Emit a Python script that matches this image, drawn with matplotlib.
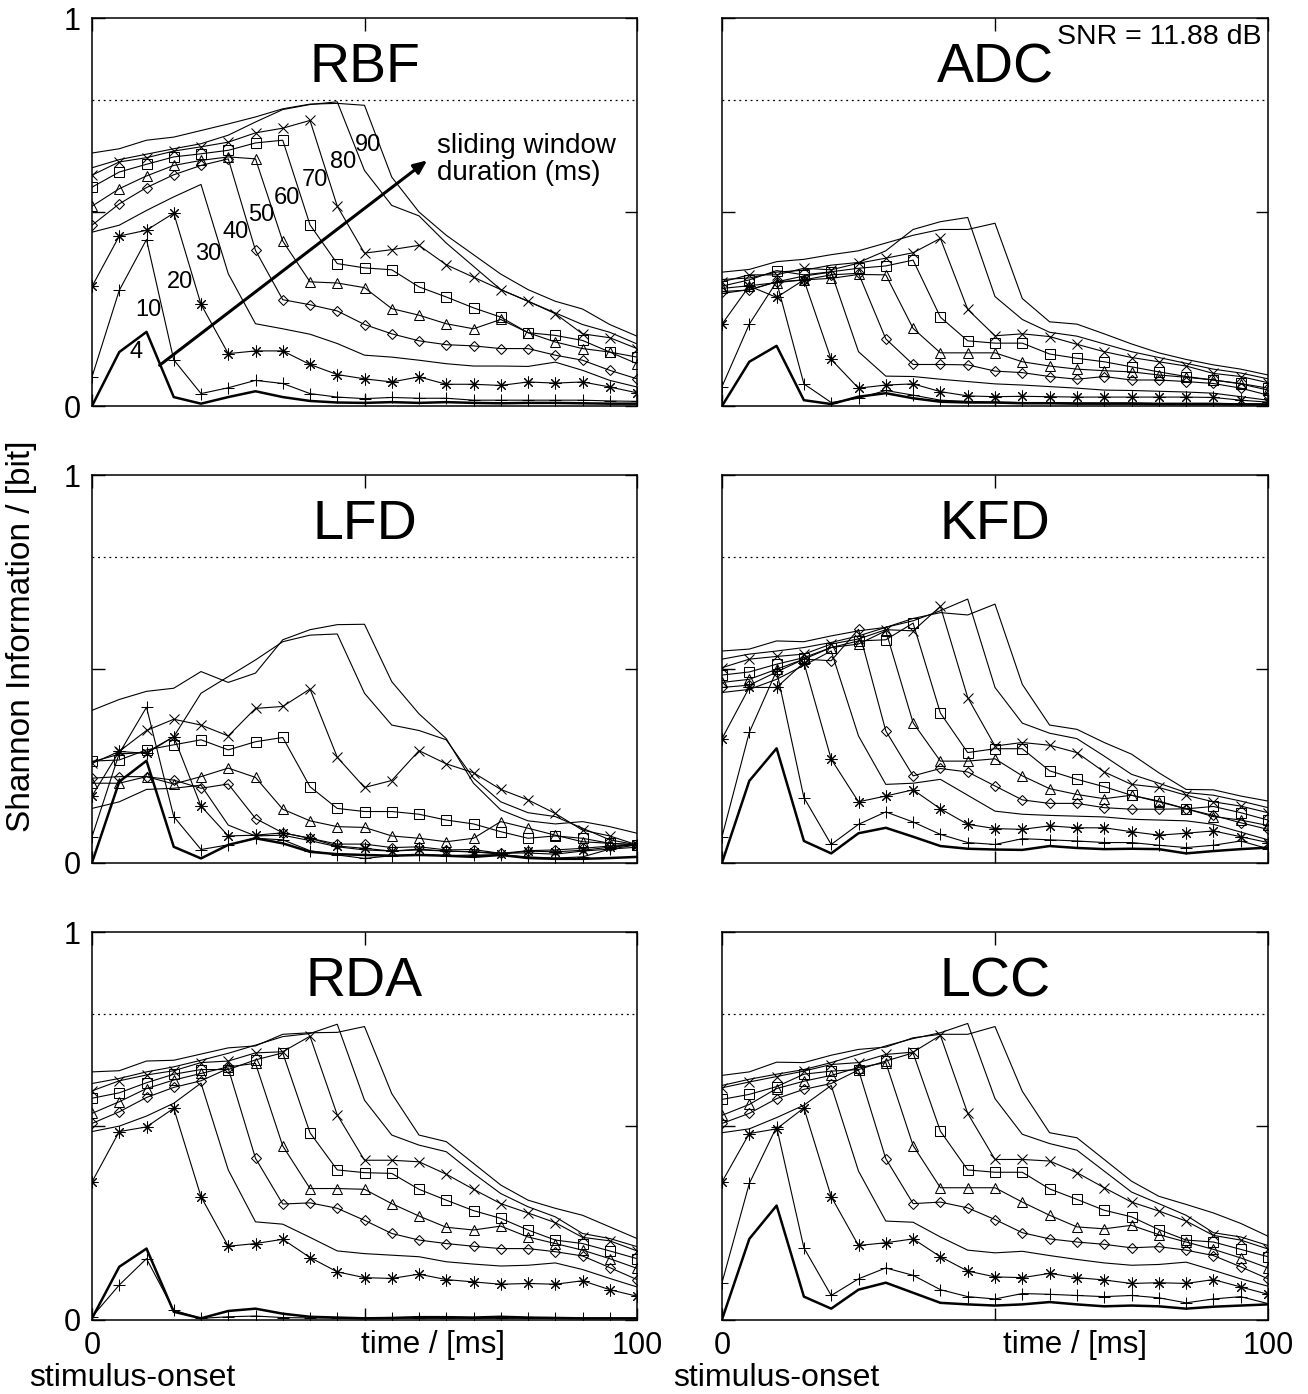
import matplotlib
matplotlib.use("Agg")
import matplotlib.pyplot as plt

plt.rcParams["font.family"] = ["Liberation Sans", "DejaVu Sans"]

# sample times of the sliding window (ms after stimulus onset)
TIME_MS = [0, 5, 10, 15, 20, 25, 30, 35, 40, 45, 50,
           55, 60, 65, 70, 75, 80, 85, 90, 95, 100]
WINDOWS_MS = [4, 10, 20, 30, 40, 50, 60, 70, 80, 90]
MAX_INFO = 0.788
SNR_DB = 11.88

# rows follow WINDOWS_MS
RBF = [
    [0, 0.139, 0.191, 0.023, 0.006, 0.023, 0.038, 0.023, 0.013, 0.009, 0.008, 0.010, 0.008, 0.010, 0.008, 0.007, 0.008, 0.008, 0.007, 0.006, 0.006],
    [0.075, 0.298, 0.429, 0.119, 0.032, 0.047, 0.066, 0.058, 0.032, 0.023, 0.019, 0.022, 0.020, 0.020, 0.015, 0.015, 0.015, 0.015, 0.015, 0.013, 0.012],
    [0.308, 0.438, 0.453, 0.497, 0.262, 0.135, 0.142, 0.142, 0.107, 0.081, 0.070, 0.062, 0.075, 0.056, 0.056, 0.053, 0.062, 0.059, 0.062, 0.049, 0.034],
    [0.448, 0.466, 0.504, 0.539, 0.571, 0.341, 0.212, 0.199, 0.185, 0.161, 0.131, 0.126, 0.118, 0.109, 0.103, 0.103, 0.102, 0.113, 0.092, 0.066, 0.049],
    [0.466, 0.521, 0.563, 0.596, 0.620, 0.637, 0.401, 0.274, 0.261, 0.245, 0.210, 0.186, 0.168, 0.158, 0.155, 0.148, 0.148, 0.131, 0.118, 0.092, 0.070],
    [0.515, 0.560, 0.593, 0.620, 0.633, 0.642, 0.637, 0.425, 0.320, 0.317, 0.305, 0.251, 0.234, 0.212, 0.199, 0.223, 0.189, 0.165, 0.148, 0.139, 0.109],
    [0.564, 0.603, 0.623, 0.642, 0.650, 0.659, 0.678, 0.685, 0.467, 0.367, 0.356, 0.351, 0.307, 0.281, 0.253, 0.229, 0.189, 0.182, 0.169, 0.139, 0.126],
    [0.595, 0.629, 0.640, 0.657, 0.668, 0.680, 0.704, 0.716, 0.736, 0.515, 0.394, 0.403, 0.414, 0.364, 0.332, 0.300, 0.270, 0.238, 0.186, 0.176, 0.148],
    [0.614, 0.635, 0.649, 0.663, 0.676, 0.698, 0.732, 0.764, 0.777, 0.784, 0.607, 0.517, 0.490, 0.420, 0.360, 0.300, 0.270, 0.240, 0.210, 0.190, 0.160],
    [0.652, 0.663, 0.685, 0.693, 0.710, 0.727, 0.745, 0.766, 0.778, 0.780, 0.775, 0.590, 0.500, 0.440, 0.390, 0.340, 0.300, 0.270, 0.250, 0.210, 0.180],
]

ADC = [
    [0, 0.114, 0.155, 0.015, 0.005, 0.024, 0.033, 0.020, 0.011, 0.009, 0.009, 0.007, 0.007, 0.006, 0.006, 0.006, 0.005, 0.005, 0.005, 0.004, 0.004],
    [0.050, 0.211, 0.320, 0.057, 0.009, 0.020, 0.040, 0.028, 0.015, 0.012, 0.010, 0.009, 0.009, 0.008, 0.008, 0.008, 0.007, 0.007, 0.007, 0.006, 0.005],
    [0.211, 0.309, 0.280, 0.325, 0.120, 0.046, 0.054, 0.057, 0.037, 0.026, 0.024, 0.025, 0.024, 0.023, 0.023, 0.023, 0.023, 0.023, 0.022, 0.015, 0.010],
    [0.290, 0.300, 0.320, 0.335, 0.345, 0.140, 0.077, 0.076, 0.069, 0.063, 0.057, 0.054, 0.050, 0.046, 0.041, 0.040, 0.038, 0.036, 0.033, 0.024, 0.015],
    [0.295, 0.299, 0.320, 0.325, 0.338, 0.342, 0.173, 0.107, 0.107, 0.106, 0.090, 0.086, 0.076, 0.069, 0.076, 0.067, 0.067, 0.063, 0.058, 0.046, 0.028],
    [0.303, 0.310, 0.318, 0.325, 0.329, 0.339, 0.338, 0.200, 0.137, 0.137, 0.137, 0.114, 0.103, 0.095, 0.091, 0.088, 0.080, 0.074, 0.067, 0.057, 0.041],
    [0.309, 0.325, 0.349, 0.338, 0.346, 0.355, 0.361, 0.376, 0.229, 0.168, 0.162, 0.162, 0.134, 0.123, 0.114, 0.101, 0.088, 0.076, 0.067, 0.058, 0.046],
    [0.320, 0.338, 0.338, 0.355, 0.351, 0.368, 0.381, 0.395, 0.432, 0.249, 0.181, 0.186, 0.179, 0.159, 0.140, 0.125, 0.114, 0.103, 0.084, 0.076, 0.060],
    [0.326, 0.330, 0.345, 0.350, 0.363, 0.370, 0.400, 0.455, 0.475, 0.486, 0.282, 0.223, 0.190, 0.180, 0.160, 0.140, 0.125, 0.110, 0.095, 0.085, 0.070],
    [0.345, 0.352, 0.372, 0.378, 0.390, 0.400, 0.420, 0.440, 0.455, 0.455, 0.471, 0.277, 0.217, 0.211, 0.186, 0.160, 0.137, 0.120, 0.106, 0.095, 0.080],
]

LFD = [
    [0, 0.209, 0.263, 0.041, 0.011, 0.046, 0.063, 0.050, 0.028, 0.022, 0.020, 0.018, 0.020, 0.018, 0.015, 0.020, 0.012, 0.010, 0.010, 0.012, 0.015],
    [0.067, 0.282, 0.401, 0.119, 0.034, 0.046, 0.063, 0.059, 0.031, 0.020, 0.011, 0.018, 0.020, 0.018, 0.020, 0.020, 0.015, 0.012, 0.015, 0.035, 0.046],
    [0.172, 0.287, 0.282, 0.325, 0.146, 0.069, 0.071, 0.077, 0.063, 0.043, 0.037, 0.030, 0.035, 0.030, 0.028, 0.022, 0.030, 0.028, 0.032, 0.040, 0.046],
    [0.140, 0.157, 0.189, 0.192, 0.200, 0.097, 0.069, 0.071, 0.057, 0.041, 0.033, 0.030, 0.033, 0.030, 0.028, 0.025, 0.025, 0.022, 0.030, 0.035, 0.040],
    [0.218, 0.222, 0.222, 0.213, 0.192, 0.203, 0.114, 0.077, 0.063, 0.048, 0.048, 0.039, 0.041, 0.033, 0.034, 0.024, 0.031, 0.033, 0.037, 0.043, 0.046],
    [0.205, 0.205, 0.222, 0.203, 0.222, 0.244, 0.220, 0.138, 0.108, 0.093, 0.091, 0.069, 0.063, 0.054, 0.063, 0.106, 0.089, 0.071, 0.054, 0.050, 0.046],
    [0.262, 0.265, 0.291, 0.304, 0.317, 0.291, 0.312, 0.323, 0.196, 0.140, 0.132, 0.132, 0.125, 0.110, 0.100, 0.080, 0.063, 0.069, 0.063, 0.050, 0.046],
    [0.256, 0.287, 0.341, 0.370, 0.355, 0.327, 0.398, 0.403, 0.448, 0.272, 0.194, 0.212, 0.289, 0.255, 0.232, 0.189, 0.162, 0.127, 0.084, 0.069, 0.046],
    [0.260, 0.280, 0.285, 0.325, 0.437, 0.480, 0.523, 0.570, 0.587, 0.590, 0.437, 0.355, 0.341, 0.317, 0.218, 0.157, 0.129, 0.119, 0.089, 0.059, 0.046],
    [0.393, 0.421, 0.442, 0.450, 0.493, 0.465, 0.489, 0.575, 0.601, 0.614, 0.615, 0.467, 0.384, 0.320, 0.205, 0.136, 0.108, 0.100, 0.106, 0.093, 0.076],
]

KFD = [
    [0, 0.211, 0.295, 0.056, 0.024, 0.076, 0.090, 0.067, 0.043, 0.036, 0.034, 0.033, 0.043, 0.038, 0.035, 0.036, 0.035, 0.024, 0.030, 0.035, 0.039],
    [0.067, 0.336, 0.495, 0.168, 0.047, 0.099, 0.131, 0.105, 0.073, 0.052, 0.047, 0.062, 0.059, 0.056, 0.052, 0.052, 0.045, 0.039, 0.045, 0.056, 0.036],
    [0.320, 0.452, 0.452, 0.516, 0.267, 0.157, 0.172, 0.188, 0.139, 0.099, 0.088, 0.086, 0.095, 0.090, 0.090, 0.080, 0.071, 0.076, 0.082, 0.067, 0.052],
    [0.439, 0.447, 0.473, 0.509, 0.546, 0.327, 0.202, 0.205, 0.215, 0.174, 0.133, 0.125, 0.122, 0.120, 0.118, 0.112, 0.110, 0.108, 0.099, 0.079, 0.059],
    [0.452, 0.458, 0.492, 0.525, 0.521, 0.602, 0.340, 0.224, 0.243, 0.234, 0.198, 0.162, 0.153, 0.153, 0.142, 0.138, 0.138, 0.139, 0.122, 0.103, 0.086],
    [0.465, 0.473, 0.499, 0.525, 0.555, 0.564, 0.598, 0.361, 0.262, 0.262, 0.268, 0.224, 0.191, 0.176, 0.165, 0.174, 0.157, 0.139, 0.119, 0.110, 0.096],
    [0.484, 0.492, 0.512, 0.529, 0.555, 0.572, 0.575, 0.618, 0.386, 0.284, 0.294, 0.294, 0.237, 0.215, 0.196, 0.174, 0.159, 0.139, 0.145, 0.129, 0.110],
    [0.503, 0.525, 0.532, 0.538, 0.564, 0.577, 0.601, 0.598, 0.661, 0.426, 0.301, 0.310, 0.303, 0.284, 0.234, 0.202, 0.194, 0.174, 0.157, 0.146, 0.129],
    [0.525, 0.538, 0.546, 0.555, 0.568, 0.585, 0.607, 0.624, 0.650, 0.680, 0.452, 0.360, 0.334, 0.320, 0.275, 0.228, 0.205, 0.181, 0.174, 0.159, 0.142],
    [0.546, 0.551, 0.572, 0.570, 0.585, 0.598, 0.607, 0.630, 0.645, 0.639, 0.667, 0.460, 0.355, 0.344, 0.310, 0.280, 0.232, 0.189, 0.188, 0.172, 0.159],
]

RDA = [
    [0.003, 0.136, 0.183, 0.020, 0.003, 0.022, 0.028, 0.015, 0.007, 0.005, 0.003, 0.004, 0.006, 0.006, 0.005, 0.007, 0.005, 0.004, 0.003, 0.003, 0.003],
    [0.007, 0.089, 0.157, 0.024, 0.003, 0.007, 0.009, 0.005, 0.004, 0.004, 0.004, 0.004, 0.003, 0.003, 0.003, 0.003, 0.003, 0.003, 0.003, 0.003, 0.003],
    [0.355, 0.485, 0.497, 0.545, 0.317, 0.189, 0.196, 0.207, 0.160, 0.123, 0.108, 0.106, 0.117, 0.103, 0.097, 0.091, 0.093, 0.091, 0.100, 0.077, 0.060],
    [0.485, 0.499, 0.525, 0.558, 0.610, 0.386, 0.252, 0.246, 0.212, 0.177, 0.170, 0.166, 0.162, 0.149, 0.143, 0.138, 0.140, 0.146, 0.129, 0.106, 0.084],
    [0.506, 0.536, 0.573, 0.599, 0.616, 0.648, 0.416, 0.298, 0.301, 0.287, 0.256, 0.222, 0.205, 0.196, 0.189, 0.183, 0.183, 0.175, 0.164, 0.134, 0.103],
    [0.532, 0.562, 0.596, 0.618, 0.635, 0.652, 0.661, 0.448, 0.338, 0.338, 0.336, 0.299, 0.267, 0.238, 0.231, 0.241, 0.213, 0.196, 0.179, 0.157, 0.132],
    [0.571, 0.585, 0.611, 0.633, 0.645, 0.645, 0.670, 0.688, 0.482, 0.386, 0.379, 0.377, 0.336, 0.308, 0.281, 0.261, 0.231, 0.205, 0.196, 0.177, 0.157],
    [0.590, 0.616, 0.631, 0.642, 0.663, 0.667, 0.688, 0.691, 0.731, 0.528, 0.411, 0.411, 0.407, 0.375, 0.336, 0.299, 0.275, 0.250, 0.212, 0.203, 0.177],
    [0.609, 0.622, 0.639, 0.652, 0.669, 0.687, 0.708, 0.730, 0.738, 0.762, 0.566, 0.476, 0.450, 0.433, 0.377, 0.325, 0.291, 0.265, 0.222, 0.209, 0.188],
    [0.639, 0.642, 0.667, 0.669, 0.685, 0.701, 0.706, 0.736, 0.740, 0.741, 0.756, 0.583, 0.476, 0.459, 0.403, 0.347, 0.308, 0.287, 0.269, 0.239, 0.209],
]

LCC = [
    [0, 0.208, 0.294, 0.059, 0.028, 0.077, 0.095, 0.069, 0.043, 0.039, 0.036, 0.039, 0.045, 0.039, 0.034, 0.036, 0.034, 0.028, 0.033, 0.036, 0.039],
    [0.095, 0.351, 0.497, 0.185, 0.062, 0.105, 0.133, 0.114, 0.077, 0.059, 0.053, 0.067, 0.065, 0.062, 0.059, 0.062, 0.056, 0.043, 0.053, 0.059, 0.041],
    [0.355, 0.480, 0.492, 0.546, 0.317, 0.191, 0.198, 0.208, 0.162, 0.125, 0.110, 0.108, 0.119, 0.108, 0.102, 0.093, 0.095, 0.093, 0.103, 0.084, 0.065],
    [0.482, 0.492, 0.521, 0.553, 0.604, 0.383, 0.254, 0.251, 0.213, 0.179, 0.172, 0.176, 0.165, 0.155, 0.146, 0.140, 0.142, 0.148, 0.127, 0.105, 0.086],
    [0.506, 0.532, 0.570, 0.594, 0.609, 0.644, 0.415, 0.299, 0.303, 0.288, 0.258, 0.224, 0.208, 0.200, 0.194, 0.185, 0.188, 0.179, 0.165, 0.136, 0.105],
    [0.527, 0.555, 0.596, 0.615, 0.630, 0.650, 0.663, 0.449, 0.340, 0.340, 0.340, 0.303, 0.269, 0.239, 0.234, 0.243, 0.219, 0.200, 0.181, 0.159, 0.133],
    [0.568, 0.581, 0.601, 0.633, 0.641, 0.645, 0.667, 0.688, 0.486, 0.386, 0.380, 0.380, 0.337, 0.310, 0.282, 0.265, 0.232, 0.205, 0.200, 0.181, 0.162],
    [0.598, 0.613, 0.627, 0.641, 0.658, 0.663, 0.684, 0.690, 0.733, 0.532, 0.413, 0.413, 0.409, 0.379, 0.340, 0.303, 0.280, 0.254, 0.217, 0.205, 0.182],
    [0.604, 0.620, 0.633, 0.645, 0.663, 0.684, 0.706, 0.725, 0.740, 0.764, 0.570, 0.478, 0.454, 0.437, 0.383, 0.329, 0.299, 0.269, 0.224, 0.213, 0.191],
    [0.630, 0.639, 0.664, 0.663, 0.682, 0.697, 0.703, 0.727, 0.736, 0.736, 0.756, 0.589, 0.482, 0.469, 0.413, 0.357, 0.318, 0.297, 0.275, 0.248, 0.215],
]

PANELS = [("RBF", RBF), ("ADC", ADC), ("LFD", LFD),
          ("KFD", KFD), ("RDA", RDA), ("LCC", LCC)]

# window-duration label positions on the RBF panel (time, info)
LABEL_POS = [(8.1, 0.139), (10.3, 0.248), (16.1, 0.32), (21.3, 0.393),
             (26.4, 0.448), (31.1, 0.491), (35.7, 0.535), (40.9, 0.582),
             (46.1, 0.629), (50.6, 0.672)]

ASTERISK = (8, 2, 0)
MARKERS = {4: None, 10: "+", 20: ASTERISK, 30: None, 40: "D",
           50: "^", 60: "s", 70: "x", 80: None, 90: None}
MSIZE = {"+": 8, ASTERISK: 8.5, "D": 5.2, "^": 6.5, "s": 6.5, "x": 7.5}

W, H = 1308, 1394
COL_X = [(92, 545), (722, 546)]
ROW_Y = [(18, 406), (475, 862.7), (932, 1319.5)]


def px_rect(x0, w, ytop, ybot):
    return [x0 / W, 1 - ybot / H, w / W, (ybot - ytop) / H]


fig = plt.figure(figsize=(W / 100, H / 100), dpi=100)

for k, (name, rows) in enumerate(PANELS):
    r, c = divmod(k, 2)
    x0, w = COL_X[c]
    ytop, ybot = ROW_Y[r]
    ax = fig.add_axes(px_rect(x0, w, ytop, ybot))

    ax.axhline(MAX_INFO, color="black", lw=0.9, ls=(0, (1.5, 3)))
    for win, vals in zip(WINDOWS_MS, rows):
        m = MARKERS[win]
        kw = dict(color="black", lw=1.8 if win == 4 else 0.8)
        if m is not None:
            kw.update(marker=m, ms=MSIZE[m], mfc="none", mec="black", mew=0.75)
        ax.plot(TIME_MS, vals, **kw)

    ax.set_xlim(0, 100)
    ax.set_ylim(0, 1)
    ax.set_xticks([0, 50, 100])
    ax.set_yticks([0, 0.5, 1])
    ax.tick_params(direction="in", length=9, width=1, top=True, right=True,
                   labelsize=22, pad=8)
    ax.set_xticklabels(["0", "", "100"] if r == 2 else ["", "", ""])
    ax.set_yticklabels(["0", "", "1"] if c == 0 else ["", "", ""])
    for sp in ax.spines.values():
        sp.set_linewidth(1.1)

    ax.text(50, 0.87, name, ha="center", va="center", fontsize=40)

    if name == "RBF":
        for win, (tx, ty) in zip(WINDOWS_MS, LABEL_POS):
            ax.text(tx, ty, str(win), ha="center", va="center", fontsize=17)
        ax.annotate("", xy=(61.5, 0.633), xytext=(12.4, 0.105),
                    arrowprops=dict(arrowstyle="-|>,head_length=0.8,head_width=0.35",
                                    color="black", lw=2.2, shrinkA=0, shrinkB=0))
        ax.text(63.3, 0.635, "sliding window\nduration (ms)", ha="left",
                va="center", fontsize=20, linespacing=1.05)
    if name == "ADC":
        ax.text(98.8, 0.952, f"SNR = {SNR_DB:.2f} dB", ha="right",
                va="center", fontsize=20.5)

fig.text(22 / W, 1 - 636 / H, "Shannon Information / [bit]", rotation=90,
         ha="center", va="center", fontsize=24)
for cx in (433, 1075):
    fig.text(cx / W, 1 - 1345 / H, "time / [ms]", ha="center", va="center",
             fontsize=22.5)
for cx in (132, 776):
    fig.text(cx / W, 1 - 1386 / H, "stimulus-onset", ha="center",
             va="baseline", fontsize=23)

fig.savefig("out.png", dpi=100)
